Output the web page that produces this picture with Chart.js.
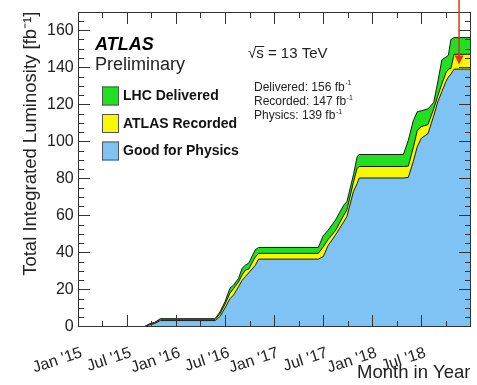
<!DOCTYPE html>
<html>
<head>
<meta charset="utf-8">
<script src="https://cdn.jsdelivr.net/npm/chart.js@4.4.1/dist/chart.umd.min.js"></script>
<style>
    html, body { margin: 0; padding: 0; background: #fff; }
</style>
</head>
<body>
<canvas id="chartLumi" width="477" height="385"></canvas>
<script>
// x = months since Jan 2015
const months = [0, 8.2, 8.8, 9.4, 10.1, 16.8, 17.4, 18.0, 18.6, 19.05, 19.65, 20.1, 20.5, 20.9, 21.7, 22.1, 29.4, 30.0, 30.6, 31.5, 32.5, 32.9, 33.7, 34.15, 34.4, 39.8, 40.4, 41.0, 41.5, 42.0, 42.8, 43.5, 44.0, 44.5, 45.0, 45.3, 45.6, 46.0, 48.0]
const delivered = [0, 0, 1.5, 2.2, 4.2, 4.2, 8, 13.4, 20.6, 22.4, 26, 31.5, 33.2, 34.2, 41.4, 42.7, 42.7, 49, 52, 57.5, 65.5, 67.5, 82, 91.8, 92.9, 92.9, 100.5, 111, 116, 116.5, 117.5, 121, 132, 144, 145.5, 146.5, 155, 156, 156]
const recorded = [0, 0, 1.3, 2.0, 3.9, 3.9, 7, 12, 18, 20.5, 24, 28, 30.5, 31, 37.5, 39.5, 39.5, 43, 47, 51.8, 60, 63, 78, 85.5, 86.4, 86.4, 86.6, 96.5, 106, 108, 109, 117.5, 124.5, 131, 137, 139, 139.3, 147, 147]
const physics = [0, 0, 1.0, 1.6, 3.2, 3.2, 5.5, 10, 15, 17, 21.5, 25, 27, 29, 33, 36.4, 36.4, 37.7, 43.7, 49.4, 56.5, 59.4, 73, 77.2, 80.2, 80.2, 80.5, 89, 97.2, 101.7, 104.1, 113.7, 121.3, 126.8, 132.3, 134.7, 136.3, 139, 139]

const xTickLabels = ["Jan '15", "Jul '15", "Jan '16", "Jul '16", "Jan '17", "Jul '17", "Jan '18", "Jul '18"]
const legendLabels = ['LHC Delivered', 'ATLAS Recorded', 'Good for Physics']
const infoLabels = ['Delivered', 'Recorded', 'Physics']
const infoValues = [156, 147, 139]
const arrowMonth = 46.6
const arrowTip = 141.5

const FONT = "'Liberation Sans', Arial, Helvetica, sans-serif"
const TXT = '#222'
const cGreen = '#20e020'
const cYellow = '#f8f800'
const cBlue = '#7ec3f3'

const pts = vals => months.map((m, i) => ({ x: m, y: vals[i] }))

// text with a raised small suffix (fb^-1)
function textSup(ctx, x, y, base, sup, size) {
    ctx.font = `${size}px ${FONT}`
    ctx.fillText(base, x, y)
    const w = ctx.measureText(base).width
    ctx.font = `${Math.round(size * 0.62)}px ${FONT}`
    ctx.fillText(sup, x + w + 0.5, y - size * 0.42)
}

const atlasDecor = {
    id: 'atlasDecor',
    afterDatasetsDraw(chart) {
        const ctx = chart.ctx
        const a = chart.chartArea
        const xs = chart.scales.x
        const ys = chart.scales.y
        const L = Math.round(a.left), R = Math.round(a.right)
        const T = Math.round(a.top), B = Math.round(a.bottom)
        ctx.save()

        // frame + inward ticks (ROOT style)
        ctx.fillStyle = '#333'
        ctx.fillRect(L, T, R - L, 1)
        ctx.fillRect(L, B - 1, R - L, 1)
        ctx.fillRect(L, T, 1, B - T)
        ctx.fillRect(R - 1, T, 1, B - T)
        for (let v = 5; v < 170; v += 5) {
            const py = Math.round(ys.getPixelForValue(v))
            const len = v % 20 === 0 ? 12 : 6
            ctx.fillRect(L, py, len, 1)
            ctx.fillRect(R - len, py, len, 1)
        }
        for (let m = 3; m < 48; m += 3) {
            const px = Math.round(xs.getPixelForValue(m))
            const len = m % 6 === 0 ? 12 : 6
            ctx.fillRect(px, B - len, 1, len)
            ctx.fillRect(px, T, 1, len)
        }

        // ATLAS label
        const lx = L + 17
        ctx.fillStyle = '#000'
        ctx.textBaseline = 'alphabetic'
        ctx.textAlign = 'left'
        ctx.font = `italic bold 18px ${FONT}`
        ctx.fillText('ATLAS', lx, 50)
        ctx.fillStyle = TXT
        ctx.font = `18px ${FONT}`
        ctx.fillText('Preliminary', lx, 70)

        // legend
        const boxes = [cGreen, cYellow, cBlue]
        legendLabels.forEach((lab, i) => {
            const cy = 96 + i * 27.5
            ctx.fillStyle = boxes[i]
            ctx.fillRect(L + 24, cy - 9.5, 17, 19)
            ctx.strokeStyle = '#555'
            ctx.lineWidth = 1
            ctx.strokeRect(L + 24.5, cy - 9, 16, 18)
            ctx.fillStyle = '#111'
            ctx.font = `bold 14px ${FONT}`
            ctx.textBaseline = 'middle'
            ctx.fillText(lab, L + 45, cy + 0.5)
        })

        // sqrt(s) = 13 TeV
        ctx.textBaseline = 'alphabetic'
        ctx.fillStyle = TXT
        ctx.font = `15px ${FONT}`
        const sx = 248
        ctx.fillText('\u221As = 13 TeV', sx, 58)
        const wRoot = ctx.measureText('\u221A').width
        const wS = ctx.measureText('s').width
        ctx.fillRect(sx + wRoot - 1, 46, wS + 1.5, 1)

        // integrated values
        infoLabels.forEach((lab, i) => {
            textSup(ctx, 254, 90.5 + i * 14.2, `${lab}: ${infoValues[i]} fb`, '-1', 12)
        })

        // red arrow
        const ax = xs.getPixelForValue(arrowMonth)
        const ay = ys.getPixelForValue(arrowTip)
        ctx.strokeStyle = '#e8301c'
        ctx.fillStyle = '#e8301c'
        ctx.lineWidth = 1.5
        ctx.beginPath()
        ctx.moveTo(ax, 0); ctx.lineTo(ax, ay - 6)
        ctx.stroke()
        ctx.beginPath()
        ctx.moveTo(ax - 4.5, ay - 9); ctx.lineTo(ax + 4.5, ay - 9); ctx.lineTo(ax, ay)
        ctx.closePath()
        ctx.fill()

        ctx.restore()
    }
}

new Chart(document.getElementById('chartLumi'), {
    type: 'line',
    data: {
        datasets: [
            { label: legendLabels[2], data: pts(physics), backgroundColor: cBlue },
            { label: legendLabels[1], data: pts(recorded), backgroundColor: cYellow },
            { label: legendLabels[0], data: pts(delivered), backgroundColor: cGreen }
        ].map(d => ({ ...d, fill: 'origin', borderColor: '#1a1a1a', borderWidth: 1, pointRadius: 0, tension: 0 }))
    },
    options: {
        responsive: false,
        animation: false,
        devicePixelRatio: 1,
        layout: { padding: { left: 0, right: 6.5, top: 11.7, bottom: 0 } },
        plugins: { legend: { display: false }, tooltip: { enabled: false } },
        scales: {
            x: {
                type: 'linear',
                min: 0,
                max: 48,
                afterFit: s => { s.height = 58.5; s.paddingLeft = 0; s.paddingRight = 0 },
                grid: { display: false, drawTicks: false },
                border: { display: false },
                ticks: {
                    stepSize: 3,
                    autoSkip: false,
                    minRotation: 18,
                    maxRotation: 18,
                    padding: 17,
                    labelOffset: 4,
                    color: TXT,
                    font: { family: FONT, size: 16 },
                    callback: v => (v % 6 === 0 && v < 48) ? xTickLabels[v / 6] : ''
                },
                title: {
                    display: true,
                    text: 'Month in Year',
                    align: 'end',
                    color: TXT,
                    font: { family: FONT, size: 18.5 },
                    padding: { top: 0, bottom: 1 }
                }
            },
            y: {
                min: 0,
                max: 170,
                afterFit: s => { s.width = 77.7; s.paddingTop = 0; s.paddingBottom = 0 },
                grid: { display: false, drawTicks: false },
                border: { display: false },
                ticks: {
                    stepSize: 5,
                    autoSkip: false,
                    padding: 4,
                    color: TXT,
                    font: { family: FONT, size: 16 },
                    callback: v => (v % 20 === 0 ? String(v) : '')
                },
                title: {
                    display: true,
                    text: 'Total Integrated Luminosity [fb\u207B\u00B9]',
                    align: 'end',
                    color: TXT,
                    font: { family: FONT, size: 18.5 },
                    padding: { top: 20, bottom: 0 }
                }
            }
        }
    },
    plugins: [atlasDecor]
})
</script>
</body>
</html>
